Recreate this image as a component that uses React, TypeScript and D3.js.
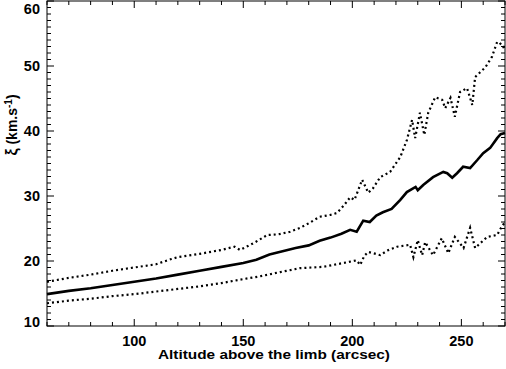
import React from 'react';
import * as d3 from 'd3';

const width = 506;
const height = 369;
const margin = { top: 1, right: 1, bottom: 43, left: 47 };

// mean curve
const meanAlt = [60, 70, 80, 90, 100, 110, 120, 130, 140, 150, 156, 162, 168, 174, 180, 185, 190, 195, 199, 202, 205, 208, 211, 214, 218, 222, 225, 229, 230, 232.5, 237, 241.7, 243.5, 245.8, 248, 250.8, 254, 257.2, 260, 263.2, 266.4, 268, 270];
const meanXi = [14.9, 15.4, 15.8, 16.3, 16.8, 17.3, 17.9, 18.5, 19.1, 19.7, 20.2, 21.0, 21.5, 22.0, 22.4, 23.1, 23.6, 24.2, 24.8, 24.5, 26.2, 26.0, 27.0, 27.5, 28.0, 29.4, 30.6, 31.4, 30.9, 31.7, 32.9, 33.7, 33.5, 32.8, 33.5, 34.5, 34.3, 35.5, 36.6, 37.4, 38.9, 39.5, 39.7];

// upper envelope
const upperAlt = [60, 70, 80, 90, 100, 110, 117, 120, 130, 140, 146, 148.5, 155, 161, 166, 171.5, 176, 180, 185, 190, 193, 196, 199, 201, 204.5, 207.3, 209.5, 212.8, 217.3, 222, 225, 227.4, 228.8, 231, 233, 234.8, 238, 241.2, 242.6, 245, 247, 249.4, 252.6, 255, 256.3, 258.5, 261, 264, 266.4, 267.5, 269.2, 270];
const upperXi = [16.8, 17.4, 17.9, 18.5, 19.0, 19.5, 20.3, 20.6, 21.1, 21.7, 22.2, 21.7, 22.8, 24.0, 24.1, 24.5, 25.1, 25.8, 26.8, 27.1, 27.4, 28.5, 29.8, 29.4, 32.5, 30.5, 31.2, 32.9, 33.7, 36.0, 38.6, 41.7, 38.9, 42.8, 39.4, 42.8, 45.2, 44.8, 43.5, 45.1, 42.2, 46.0, 46.6, 44.0, 48.3, 49.0, 49.8, 51.4, 53.7, 53.6, 52.9, 53.0];

// lower envelope
const lowerAlt = [60, 70, 80, 90, 100, 110, 120, 130, 140, 148, 157, 167, 176, 186.6, 197.6, 202, 203.6, 205.5, 207.3, 212.8, 216, 220.5, 226.5, 228, 230, 232, 233.4, 237, 241, 244, 247, 251, 254, 256.3, 261.8, 266.4, 268, 270];
const lowerXi = [13.5, 13.9, 14.2, 14.6, 14.9, 15.3, 15.7, 16.1, 16.6, 17.1, 17.6, 18.3, 18.9, 19.1, 19.8, 20.1, 19.4, 20.8, 21.4, 20.9, 21.6, 22.2, 22.5, 20.6, 23.2, 20.9, 22.9, 20.9, 23.5, 21.2, 23.7, 22.0, 25.1, 22.0, 23.7, 24.0, 25.0, 26.0];

const xTicks = [100, 150, 200, 250];
const yTicks = [10, 20, 30, 40, 50, 60];

const font = "'Liberation Sans', Arial, sans-serif";

export default function App() {
  const x = d3.scaleLinear().domain([60, 270]).range([margin.left, width - margin.right]);
  const y = d3.scaleLinear().domain([10, 60]).range([height - margin.bottom, margin.top]);
  const x0 = margin.left, x1 = width - margin.right;
  const y0 = height - margin.bottom, y1 = margin.top;

  const line = (alt: number[], xi: number[]) =>
    d3.line<number>().x((_, i) => x(alt[i])).y((d) => y(d))(xi) || '';

  const xMinor = d3.range(60, 271, 10);
  const yMinor = d3.range(10, 61, 1);

  return (
    <svg width={width} height={height} style={{ position: 'absolute', left: 0, top: 0, background: '#fff' }}>
      <rect x={x0} y={y1} width={x1 - x0} height={y0 - y1} fill="none" stroke="#000" strokeWidth={1} />
      {xMinor.map((t) => {
        const len = t % 50 === 0 ? 7 : 4;
        return (
          <g key={'xt' + t} stroke="#000">
            <line x1={x(t)} x2={x(t)} y1={y0} y2={y0 - len} />
            <line x1={x(t)} x2={x(t)} y1={y1} y2={y1 + len} />
          </g>
        );
      })}
      {yMinor.map((t) => {
        const len = t % 10 === 0 ? 7 : 4;
        return (
          <g key={'yt' + t} stroke="#000">
            <line x1={x0} x2={x0 + len} y1={y(t)} y2={y(t)} />
            <line x1={x1} x2={x1 - len} y1={y(t)} y2={y(t)} />
          </g>
        );
      })}
      <path d={line(upperAlt, upperXi)} fill="none" stroke="#000" strokeWidth={2.2} strokeDasharray="2,3" />
      <path d={line(lowerAlt, lowerXi)} fill="none" stroke="#000" strokeWidth={2.2} strokeDasharray="2,3" />
      <path d={line(meanAlt, meanXi)} fill="none" stroke="#000" strokeWidth={2.6} />
      <g fontFamily={font} fontWeight="bold" fontSize={14.5} fill="#000">
        {xTicks.map((t) => (
          <text key={'xl' + t} x={x(t)} y={345.5} textAnchor="middle">{t}</text>
        ))}
        {yTicks.map((t) => (
          <text key={'yl' + t} x={40} y={Math.min(Math.max(y(t), 9), 322)} dy="0.35em" textAnchor="end">{t}</text>
        ))}
      </g>
      <text x={274} y={358.5} textAnchor="middle" fontFamily={font} fontWeight="bold" fontSize={12}
        textLength={232} lengthAdjust="spacingAndGlyphs">Altitude above the limb (arcsec)</text>
      <text transform="translate(17,125) rotate(-90)" textAnchor="middle" fontFamily={font} fontWeight="bold" fontSize={14}>
        <tspan fontSize={16}>ξ</tspan> (km.s<tspan dy="-5" fontSize={10}>-1</tspan><tspan dy="5">)</tspan>
      </text>
    </svg>
  );
}
